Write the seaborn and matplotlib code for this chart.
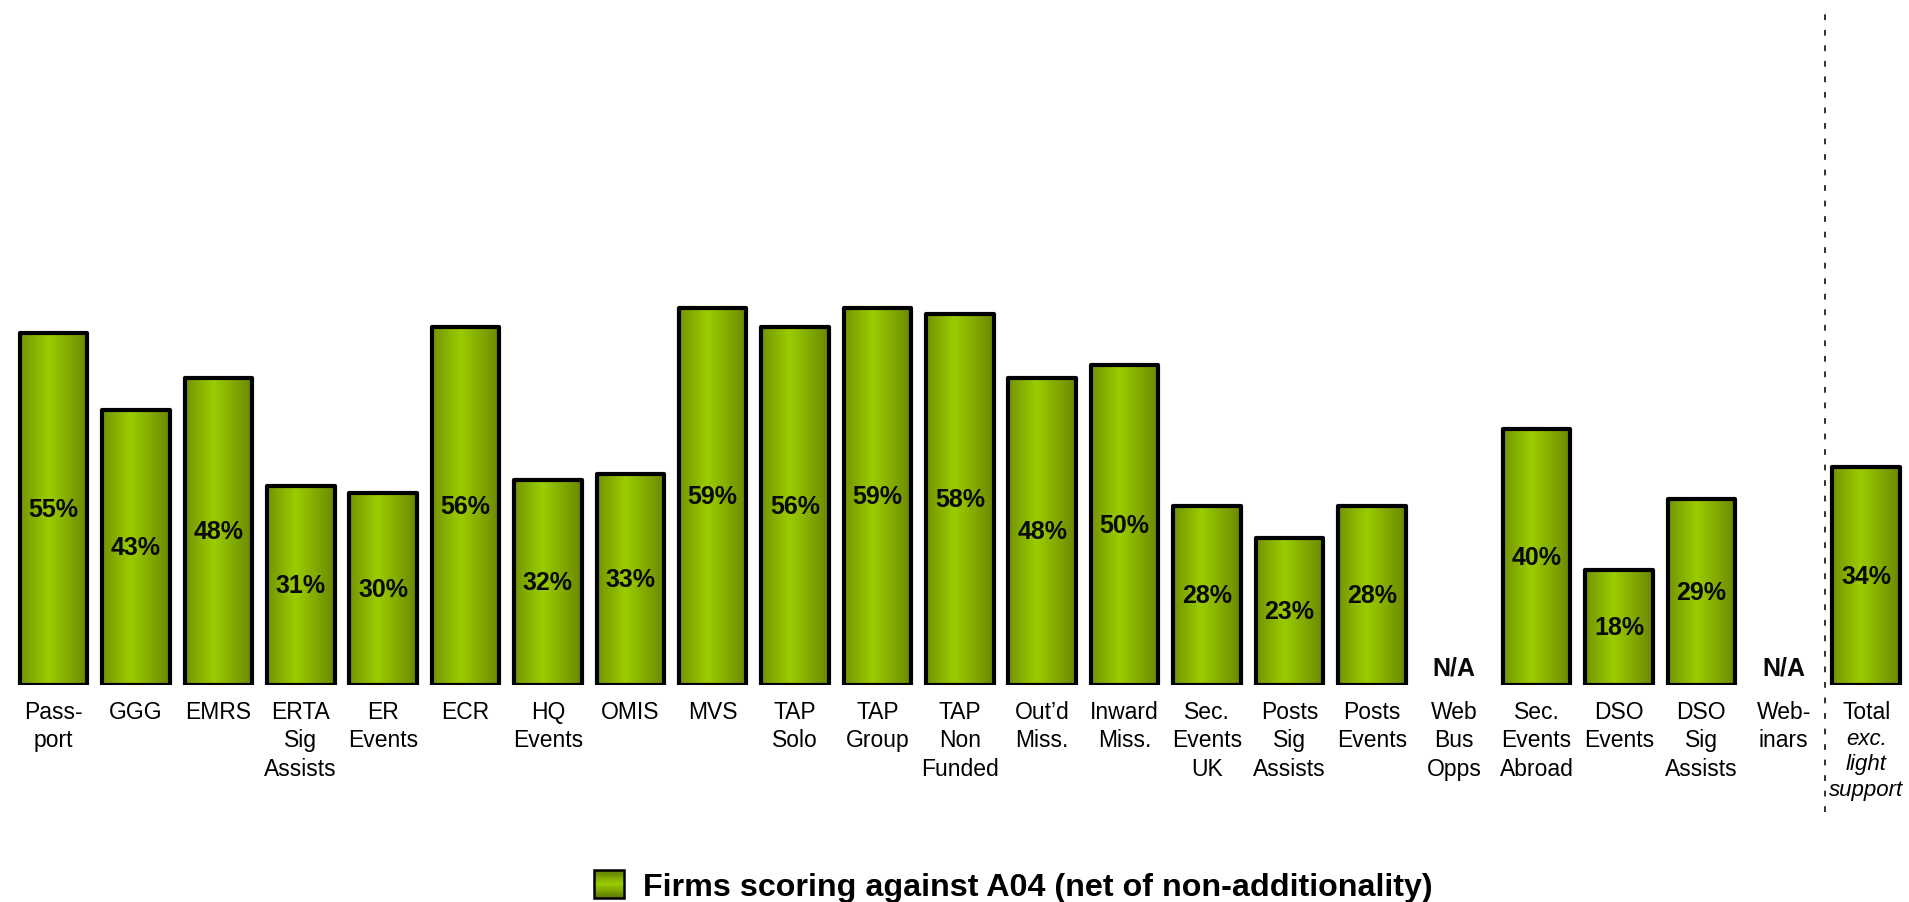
import numpy as np
import pandas as pd
import matplotlib
matplotlib.use("Agg")
import matplotlib.pyplot as plt
import seaborn as sns
from matplotlib.colors import LinearSegmentedColormap
from matplotlib.patches import Rectangle, Patch
from matplotlib.legend_handler import HandlerBase

# ---- data -------------------------------------------------------------
categories = [
    "Pass-\nport", "GGG", "EMRS", "ERTA\nSig\nAssists", "ER\nEvents", "ECR",
    "HQ\nEvents", "OMIS", "MVS", "TAP\nSolo", "TAP\nGroup", "TAP\nNon\nFunded",
    "Out\u2019d\nMiss.", "Inward\nMiss.", "Sec.\nEvents\nUK", "Posts\nSig\nAssists",
    "Posts\nEvents", "Web\nBus\nOpps", "Sec.\nEvents\nAbroad", "DSO\nEvents",
    "DSO\nSig\nAssists", "Web-\ninars", "Total",
]
values = [55, 43, 48, 31, 30, 56, 32, 33, 59, 56, 59, 58, 48, 50, 28, 23, 28,
          np.nan, 40, 18, 29, np.nan, 34]
total_note = "exc.\nlight\nsupport"
legend_label = "Firms scoring against A04 (net of non-additionality)"

# ---- style ------------------------------------------------------------
sns.set_style("white")
plt.rcParams["font.family"] = ["Liberation Sans", "DejaVu Sans"]
plt.rcParams["text.color"] = "black"
plt.rcParams["xtick.color"] = "black"
plt.rcParams["xtick.labelcolor"] = "black"

W, H = 1909, 903
fig = plt.figure(figsize=(W / 100, H / 100), dpi=100)
base_px = 685.5
ax = fig.add_axes([0, 1 - base_px / H, 1, base_px / H])

df = pd.DataFrame({"cat": categories, "val": values})
sns.barplot(data=df, x="cat", y="val", order=categories, width=0.82,
            color="#8fbf00", edgecolor="black", linewidth=3.0, ax=ax)

green = LinearSegmentedColormap.from_list(
    "bar_green", [(0.0, "#739400"), (0.42, "#9acd00"), (1.0, "#6b8800")])
grad = np.linspace(0, 1, 256).reshape(1, -1)

for p in list(ax.patches):
    h = p.get_height()
    if not np.isfinite(h) or h == 0:
        p.set_visible(False)
        continue
    x0 = p.get_x()
    w = p.get_width()
    im = ax.imshow(grad, extent=(x0, x0 + w, 0, h), cmap=green,
                   aspect="auto", interpolation="bicubic", zorder=0.5)
    im.set_clip_path(p)
    p.set_facecolor("none")
    p.set_zorder(1)
    p.set_joinstyle("round")

ax.set_xlim(-0.65, 22.52)
ax.set_ylim(0, 107.3)

# value labels / N/A markers
for i, v in enumerate(values):
    if np.isfinite(v):
        ax.text(i, v / 2, f"{v:.0f}%", ha="center", va="center",
                fontsize=18, fontweight="bold", color="#0a0a0a", zorder=3)
    else:
        ax.text(i, 2.7, "N/A", ha="center", va="center",
                fontsize=18, fontweight="bold", color="#0a0a0a", zorder=3)

# axis cosmetics
ax.set_xlabel("")
ax.set_ylabel("")
ax.set_yticks([])
ax.tick_params(axis="x", length=0, pad=11, labelsize=16.5, labelcolor="black")
for lab in ax.get_xticklabels():
    lab.set_linespacing(1.3)
for s in ax.spines.values():
    s.set_visible(False)

# italic note under the Total label
ax.text(22, -(729 - base_px) / base_px, total_note, transform=ax.get_xaxis_transform(),
        ha="center", va="top", fontsize=16, style="italic", linespacing=1.27,
        color="black")

# dashed separator before the Total bar
ax.axvline(21.5, ymin=-(813 - base_px) / base_px, ymax=(base_px - 8) / base_px,
           color="#222222", lw=1.3, ls=(0, (3.2, 5.4)), clip_on=False)


# legend swatch with vertical gradient
class GradientSwatch(HandlerBase):
    def create_artists(self, legend, orig_handle, xdescent, ydescent,
                       width, height, fontsize, trans):
        arts = []
        n = 24
        vert = LinearSegmentedColormap.from_list(
            "v", [(0.0, "#5f7a00"), (0.5, "#9acd00"), (1.0, "#5f7a00")])
        for k in range(n):
            r = Rectangle((-xdescent, -ydescent + height * k / n), width,
                          height / n + 0.3, facecolor=vert((k + 0.5) / n),
                          edgecolor="none", transform=trans)
            arts.append(r)
        arts.append(Rectangle((-xdescent, -ydescent), width, height,
                              facecolor="none", edgecolor="black", lw=1.8,
                              transform=trans))
        return arts


handle = Patch()
fig.legend([handle], [legend_label], loc="center",
           bbox_to_anchor=(1013 / W, 16 / H), frameon=False,
           prop={"size": 23.2, "weight": "bold"}, handlelength=0.94,
           handleheight=0.94, handletextpad=0.58, labelcolor="black",
           handler_map={Patch: GradientSwatch()})

fig.savefig("out.png", dpi=100)
